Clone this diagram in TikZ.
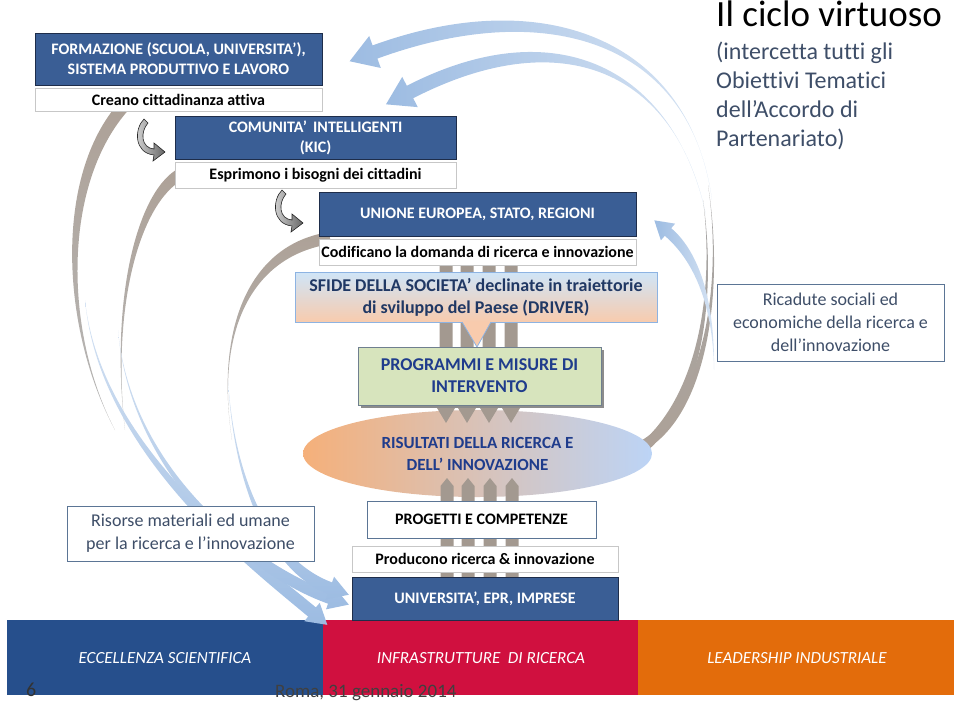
\documentclass[tikz,border=0pt]{standalone}
\usepackage{fontspec}
\setmainfont{Carlito}[Ligatures={NoCommon,TeX}]
\usetikzlibrary{calc,shapes.geometric}
\definecolor{dkblue}{HTML}{3A5E95}
\definecolor{dkedge}{HTML}{1E2D4A}
\definecolor{navy}{HTML}{1F3C8C}
\definecolor{navyb}{HTML}{203864}
\definecolor{taupe}{HTML}{ADA197}
\definecolor{barg}{HTML}{A39990}
\definecolor{arcblue}{HTML}{9DBCE2}
\definecolor{arcblueL}{HTML}{D6E3F3}
\definecolor{barblue}{HTML}{264F8C}
\definecolor{barred}{HTML}{D0103F}
\definecolor{barorange}{HTML}{E36C0B}
\definecolor{slate}{HTML}{3E4E68}
\definecolor{boxedge}{HTML}{5B7595}
\definecolor{progfill}{HTML}{D7E4BD}
\definecolor{progedge}{HTML}{6F7F8F}
\definecolor{peach}{HTML}{F8CBAD}
\definecolor{skyb}{HTML}{CFE5F8}
\definecolor{sfedge}{HTML}{8DB3E2}
\definecolor{ellor}{HTML}{F5B07A}
\definecolor{ellbl}{HTML}{BCD4F6}

% tapered arc with arrow head: #1 style, #2 thin end, #3 #4 controls, #5 end, #6 half width, #7 head half width, #8 head length
\newcommand\arcarrow[8]{%
  \coordinate (aT) at #2; \coordinate (aA) at #3; \coordinate (aB) at #4; \coordinate (aE) at #5;
  \coordinate (an) at ($(aE)!#6!90:(aB)$);
  \coordinate (am) at ($(aE)!#6!-90:(aB)$);
  \coordinate (aN) at ($(aE)!#7!90:(aB)$);
  \coordinate (aM) at ($(aE)!#7!-90:(aB)$);
  \coordinate (aP) at ($(aE)!-#8!(aB)$);
  \path[#1] (aT) .. controls ($(aA)+0.3*(an)-0.3*(aE)$) and ($(aB)+(an)-(aE)$) .. (an)
     -- (aN) -- (aP) -- (aM) -- (am)
     .. controls ($(aB)+(am)-(aE)$) and ($(aA)+0.3*(am)-0.3*(aE)$) .. (aT) -- cycle;
}
% tapered arc without head
\newcommand\arctaper[6]{%
  \coordinate (aT) at #2; \coordinate (aA) at #3; \coordinate (aB) at #4; \coordinate (aE) at #5;
  \coordinate (an) at ($(aE)!#6!90:(aB)$);
  \coordinate (am) at ($(aE)!#6!-90:(aB)$);
  \path[#1] (aT) .. controls ($(aA)+0.3*(an)-0.3*(aE)$) and ($(aB)+(an)-(aE)$) .. (an)
     -- (am)
     .. controls ($(aB)+(am)-(aE)$) and ($(aA)+0.3*(am)-0.3*(aE)$) .. (aT) -- cycle;
}

\tikzset{
  darkbox/.style={draw=dkedge, line width=1pt, fill=dkblue, text=white,
    font=\fontsize{16}{20}\selectfont\bfseries, align=center, inner sep=0pt},
  labelbox/.style={draw=black!22, line width=0.6pt, fill=white, text=black,
    font=\fontsize{16}{20}\selectfont\bfseries, align=center, inner sep=0pt},
  plainbox/.style={draw=boxedge, line width=0.9pt, fill=white, text=slate,
    font=\fontsize{18}{23}\selectfont, align=center, inner sep=0pt},
  grayarcL/.style={top color=taupe, bottom color=black!28},
  grayarcR/.style={top color=black!35, bottom color=taupe},
  bluearcL/.style={top color=arcblueL, bottom color=arcblue},
  bluearcR/.style={left color=arcblue, right color=arcblueL},
  vbar/.style={fill=barg},
  bottombar/.style={inner sep=0pt, text=white, font=\fontsize{17}{20}\selectfont\itshape},
  pics/uturnarrow/.style={code={
    \path[draw=black!85, line width=0.6pt, left color=black!15, right color=black!60]
      (10,0) .. controls (0,10) and (0,34) .. (20,36) -- (19,42) -- (31,33) -- (20,24) -- (20,30)
      .. controls (7,29) and (6,13) .. (14,4) -- cycle;
  }}
}

\begin{document}
\begin{tikzpicture}[x=1pt,y=-1pt]
\useasboundingbox (0,0) rectangle (960,704);

% bottom bars
\path[fill=barblue] (7,620) rectangle (323,695);
\path[fill=barred] (323,620) rectangle (638,695);
\path[fill=barorange] (638,620) rectangle (954,695);
\node[bottombar] (ecc) at (165,658) {ECCELLENZA SCIENTIFICA};
\node[bottombar] (infra) at (481,658) {INFRASTRUTTURE\ \ DI RICERCA};
\node[bottombar] (lead) at (797,658) {LEADERSHIP INDUSTRIALE};

% left arcs (gray tops)
\arctaper{grayarcL}{(115,430)}{(62,330)}{(58,180)}{(124,106)}{6pt}
\arctaper{grayarcL}{(125,430)}{(110,300)}{(140,190)}{(185,172)}{6pt}
\arctaper{grayarcL}{(232,440)}{(215,330)}{(250,250)}{(330,238)}{6pt}
% left arcs (blue bottoms)
\arcarrow{bluearcL}{(85,300)}{(100,450)}{(250,560)}{(312,612)}{6pt}{12pt}{20pt}
\arcarrow{bluearcL}{(118,330)}{(130,470)}{(250,570)}{(330,598)}{6pt}{12pt}{20pt}
\arcarrow{bluearcL}{(228,380)}{(235,500)}{(280,570)}{(330,588)}{6pt}{12pt}{20pt}

% right arcs (gray bottoms)
\arctaper{grayarcR}{(708,185)}{(724,290)}{(705,410)}{(642,446)}{5pt}
\arctaper{grayarcR}{(703,200)}{(716,295)}{(700,405)}{(638,452)}{5pt}
% right arcs (blue tops)
\arcarrow{bluearcR}{(712,200)}{(690,40)}{(545,-10)}{(375,52)}{7pt}{17pt}{27pt}
\arcarrow{bluearcR}{(706,215)}{(675,70)}{(560,15)}{(410,92)}{7pt}{17pt}{27pt}
\arcarrow{bluearcR}{(714,370)}{(714,300)}{(695,255)}{(668,232)}{5pt}{11pt}{18pt}

% ellipse
\node[ellipse, left color=ellor, right color=ellbl, minimum width=349pt, minimum height=87pt, inner sep=0pt] (ris) at (477.5,453.5) {};

% vertical bars down
\foreach \cx in {446,467,489,511}{
  \path[vbar] (\cx-6.5,255) -- (\cx+6.5,255) -- (\cx+6.5,408) -- (\cx+9,408) -- (\cx,423) -- (\cx-9,408) -- (\cx-6.5,408) -- cycle;
}
% vertical bars up
\foreach \cx in {447,468,490,512}{
  \path[vbar] (\cx-6.5,577) -- (\cx-6.5,486) -- (\cx,478) -- (\cx+6.5,486) -- (\cx+6.5,577) -- cycle;
}

\node[text=navy, font=\fontsize{17}{22}\selectfont\bfseries, align=center] (ristext) at (ris.center) {RISULTATI DELLA RICERCA E\\DELL’ INNOVAZIONE};

% top-left chain
\node[darkbox, minimum width=287pt, minimum height=52pt] (form) at (178.5,59) {FORMAZIONE (SCUOLA, UNIVERSITA’),\\SISTEMA PRODUTTIVO E LAVORO};
\node[labelbox, minimum width=287pt, minimum height=23pt] (creano) at (178.5,99.5) {Creano cittadinanza attiva};
\node[darkbox, minimum width=281pt, minimum height=43pt] (kic) at (315.5,137.5) {COMUNITA’\,\ INTELLIGENTI\\(KIC)};
\node[labelbox, minimum width=281pt, minimum height=26pt] (espr) at (315.5,175) {Esprimono i bisogni dei cittadini};
\node[darkbox, minimum width=317pt, minimum height=44pt] (ue) at (477.5,214) {UNIONE EUROPEA, STATO, REGIONI};
\node[labelbox, minimum width=317pt, minimum height=26pt] (codif) at (477.5,252) {Codificano la domanda di ricerca e innovazione};

\pic at (134,119) {uturnarrow};
\pic at (272,190) {uturnarrow};

% SFIDE box with callout
\node[draw=sfedge, line width=0.8pt, top color=skyb, bottom color=peach, minimum width=362pt, minimum height=50pt, inner sep=0pt,
  text=navyb, font=\fontsize{18}{22}\selectfont\bfseries, align=center] (sfide) at (476,297) {SFIDE DELLA SOCIETA’ declinate in traiettorie\\di sviluppo del Paese (DRIVER)};
\path[fill=peach] (462,321.6) -- (477,347) -- (491,321.6) -- cycle;
\draw[sfedge, line width=0.8pt] (462,322) -- (477,347) -- (491,322);

% PROGRAMMI
\path[fill=black!45] (361,350) rectangle (604,408);
\node[draw=progedge, line width=0.9pt, fill=progfill, minimum width=243pt, minimum height=58pt, inner sep=0pt,
  text=navy, font=\fontsize{18}{22}\selectfont\bfseries, align=center] (progr) at (479.5,376) {PROGRAMMI E MISURE DI\\INTERVENTO};

% side boxes
\node[plainbox, minimum width=227pt, minimum height=77pt] (ricad) at (830.5,322.5) {Ricadute sociali ed\\economiche della ricerca e\\dell’innovazione};
\node[plainbox, minimum width=247pt, minimum height=55pt] (risorse) at (190.5,533.5) {Risorse materiali ed umane\\per la ricerca e l’innovazione};

% bottom chain
\node[draw=boxedge, line width=0.9pt, fill=white, minimum width=229pt, minimum height=37pt, inner sep=0pt,
  font=\fontsize{16}{20}\selectfont\bfseries] (prog) at (481.5,519.5) {PROGETTI E COMPETENZE};
\node[labelbox, minimum width=266pt, minimum height=26pt] (prod) at (485,559) {Producono ricerca \& innovazione};
\node[darkbox, minimum width=266pt, minimum height=43pt] (univ) at (485,598.5) {UNIVERSITA’, EPR, IMPRESE};

% title
\node[anchor=base west, inner sep=0pt, font=\fontsize{37}{40}\selectfont] (title) at (716,27) {Il ciclo virtuoso};
\node[anchor=north west, inner sep=0pt, align=left, text=slate, font=\fontsize{24}{29}\selectfont] (sub) at (716,42) {(intercetta tutti gli\\Obiettivi Tematici\\dell’Accordo di\\Partenariato)};

% footer
\node[anchor=base west, inner sep=0pt, text=black!80, font=\fontsize{20}{22}\selectfont] (pg) at (26,696) {6};
\node[anchor=base west, inner sep=0pt, text=black!75, font=\fontsize{19}{22}\selectfont] (roma) at (275,697) {Roma, 31 gennaio 2014};
\end{tikzpicture}
\end{document}
